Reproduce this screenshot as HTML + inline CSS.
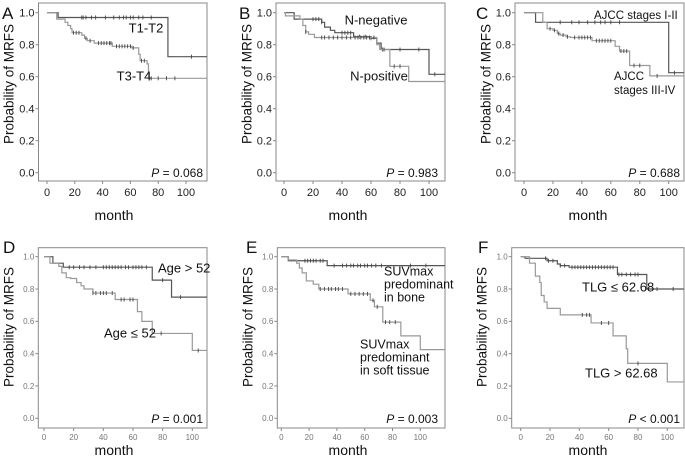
<!DOCTYPE html>
<html><head><meta charset="utf-8">
<style>
html,body{margin:0;padding:0;background:#fff;}
svg{display:block;font-family:"Liberation Sans",sans-serif;}
</style></head>
<body>
<svg id="fig" width="685" height="465" viewBox="0 0 685 465"></svg>
<script>
// ---- data (months, survival after step) ----
const aT12Times=[8,87], aT12Vals=[0.97,0.725], aT12Cens=[25,26,28,32,35,42,48,52,55,57,60,62,66,69,75,104];
const aT34Times=[7,13,15,17,18,25,27,29,34,47,61,66,67,72,73], aT34Vals=[0.96,0.94,0.92,0.9,0.875,0.86,0.84,0.825,0.81,0.79,0.78,0.74,0.70,0.68,0.59], aT34Cens=[19,21,23,28,31,37,39,41,43,45,46,50,52,54,56,58,60,62,68,70,75,80,86,92];
const bNegTimes=[7,26,28,32,35,48,60,64,67,100], bNegVals=[0.96,0.94,0.91,0.89,0.875,0.85,0.84,0.81,0.77,0.615], bNegCens=[20,22,24,26,40,42,44,46,52,56,60,68,80,93,104];
const bPosTimes=[1,11,13,15,17,21,64,66,73,86], bPosVals=[0.98,0.96,0.92,0.88,0.865,0.845,0.8,0.77,0.665,0.57], bPosCens=[15,26,28,31,34,37,40,43,46,49,51,53,55,57,59,62,69,76,80];
const cIIITimes=[8,100], cIIIVals=[0.94,0.625], cIIICens=[25,33,38,44,49,53,56,60,66,104];
const cIVTimes=[13,16,20,23,25,29,32,47,63,66,73,87], cIVVals=[0.94,0.9,0.89,0.87,0.86,0.85,0.845,0.825,0.79,0.76,0.67,0.605], cIVCens=[18,21,24,27,30,35,38,40,42,44,46,50,52,54,56,58,60,67,69,71,76,80,92];
const dOldTimes=[6,13,73,86], dOldVals=[0.96,0.935,0.855,0.75], dOldCens=[17,20,24,27,31,35,40,42,44,46,48,50,52,55,57,60,62,64,66,69,80,92];
const dYoungTimes=[4,10,12,15,18,22,25,27,33,48,63,66,73,100], dYoungVals=[0.96,0.94,0.9,0.87,0.865,0.84,0.82,0.8,0.775,0.735,0.66,0.6,0.525,0.42], dYoungCens=[33,35,38,40,42,46,52,54,58,60,79,104];
const eBoneTimes=[5,33], eBoneVals=[0.975,0.945], eBoneCens=[17,19,21,23,25,28,30,38,44,47,50,52,55,57,60,62,65,68,72,93,104];
const eSoftTimes=[5,11,13,15,18,23,27,48,64,67,73,86,100], eSoftVals=[0.98,0.96,0.93,0.9,0.85,0.83,0.8,0.77,0.73,0.69,0.595,0.51,0.425], eSoftCens=[28,31,34,36,39,41,44,50,53,56,59,62,66,69,75,78,82];
const fLowTimes=[3,18,25,27,33,66,86], fLowVals=[0.99,0.975,0.955,0.945,0.935,0.89,0.80], fLowCens=[17,19,22,27,30,35,37,39,41,43,45,47,49,51,53,55,57,59,61,63,67,69,72,75,78,80,93,104];
const fHighTimes=[6,10,13,14,16,18,27,48,63,72,73,100], fHighVals=[0.96,0.88,0.84,0.76,0.72,0.68,0.64,0.59,0.51,0.43,0.34,0.225], fHighCens=[42,45,47,55,60,80];
const yTickLabels=["0.0","0.2","0.4","0.6","0.8","1.0"];
const yTickValues=[0,0.2,0.4,0.6,0.8,1.0];
const xTickValues=[0,20,40,60,80,100];

const NS="http://www.w3.org/2000/svg";
const svg=document.getElementById('fig');
function mk(tag,attrs,parent){const e=document.createElementNS(NS,tag);for(const k in attrs)e.setAttribute(k,attrs[k]);(parent||svg).appendChild(e);return e;}

const panels=[
 {id:'a',L:'A',lx:2,ly:19,box:[38.5,3,207,181],x0:47,x100:186,y1:12.7,y0:172.7,big:true,ylx:10,yly:84,mx:114,my:220,px:203,py:177,P:'= 0.068',lfs:13,
  series:[[aT12Times,aT12Vals,aT12Cens,'#555'],[aT34Times,aT34Vals,aT34Cens,'#999']],
  labels:[['T1-T2',146,29,'middle'],['T3-T4',134,77,'middle']]},
 {id:'b',L:'B',lx:239,ly:19,box:[276,3,445,181],x0:284,x100:429,y1:12.7,y0:172.7,big:true,ylx:248,yly:84,mx:348,my:220,px:438,py:177,P:'= 0.983',lfs:13,
  series:[[bNegTimes,bNegVals,bNegCens,'#555'],[bPosTimes,bPosVals,bPosCens,'#999']],
  labels:[['N-negative',376,21,'middle'],['N-positive',379,77,'middle']]},
 {id:'c',L:'C',lx:476,ly:19,box:[515,3,684,181],x0:524,x100:668.7,y1:12.7,y0:172.7,big:true,ylx:487,yly:84,mx:588,my:220,px:680,py:177,P:'= 0.688',lfs:11.5,
  series:[[cIIITimes,cIIIVals,cIIICens,'#555'],[cIVTimes,cIVVals,cIVCens,'#999']],
  labels:[['AJCC stages I-II',594,16,'start'],['AJCC',614,77,'start'],['stages III-IV',614,91,'start']]},
 {id:'d',L:'D',lx:3,ly:253,box:[38.3,247.7,207,428],x0:44,x100:192.3,y1:256.7,y0:418.3,big:false,ylx:10,yly:327,mx:114,my:455,px:203,py:423,P:'= 0.001',lfs:13,
  series:[[dOldTimes,dOldVals,dOldCens,'#555'],[dYoungTimes,dYoungVals,dYoungCens,'#999']],
  labels:[['Age > 52',158,269,'start'],['Age ≤ 52',104,334,'start']]},
 {id:'e',L:'E',lx:246,ly:253,box:[277.3,247.7,445,428],x0:281.3,x100:420.3,y1:256.7,y0:418.3,big:false,ylx:249,yly:327,mx:348,my:455,px:438,py:423,P:'= 0.003',lfs:12.5,
  series:[[eBoneTimes,eBoneVals,eBoneCens,'#555'],[eSoftTimes,eSoftVals,eSoftCens,'#999']],
  labels:[['SUVmax',384,272,'start'],['predominant',384,285,'start'],['in bone',384,298,'start'],['SUVmax',360,345,'start'],['predominant',360,358,'start'],['in soft tissue',360,371,'start']]},
 {id:'f',L:'F',lx:478,ly:253,box:[511.7,247.7,684,428],x0:520.7,x100:667.3,y1:256.7,y0:418.3,big:false,ylx:483,yly:327,mx:588,my:455,px:680,py:423,P:'< 0.001',lfs:13,
  series:[[fLowTimes,fLowVals,fLowCens,'#555'],[fHighTimes,fHighVals,fHighCens,'#999']],
  labels:[['TLG ≤ 62.68',582,288,'start'],['TLG > 62.68',585,374,'start']]}
];

panels.forEach(p=>{
 const g=mk('g',{});
 
 
 const xs=t=>p.x0+(p.x100-p.x0)*t/100;
 const ys=v=>p.y0+(p.y1-p.y0)*v;
 const [bx1,by1,bx2,by2]=p.box;
 const box=mk('rect',{x:bx1,y:by1,width:bx2-bx1,height:by2-by1,fill:'none',stroke:'#888','stroke-width':1},g);
 
 
 const lt=mk('text',{x:p.lx,y:p.ly,'font-size':17,fill:'#111'},g); lt.textContent=p.L;
 
 
 const tfs=p.big?11:8, tcol=p.big?'#222':'#777';
 yTickValues.forEach((v,i)=>{
  const y=ys(v);
  mk('line',{x1:bx1-3,x2:bx1,y1:y,y2:y,stroke:'#888','stroke-width':1},g);
  const t=mk('text',{x:bx1-4,y:y+tfs*0.35,'font-size':tfs,fill:tcol,'text-anchor':'end'},g);t.textContent=yTickLabels[i];
  
  
 });
 xTickValues.forEach(v=>{
  const x=xs(v);
  mk('line',{x1:x,x2:x,y1:by2,y2:by2+3,stroke:'#888','stroke-width':1},g);
  const t=mk('text',{x:x,y:by2+(p.big?15:12),'font-size':tfs,fill:tcol,'text-anchor':'middle'},g);t.textContent=v;
  
  
 });
 const yl=mk('text',{x:p.ylx,y:p.yly,'font-size':13.5,fill:'#111','text-anchor':'middle',transform:`rotate(-90 ${p.ylx} ${p.yly})`,'dominant-baseline':'middle'},g);
 yl.textContent='Probability of MRFS';
 
 
 const ml=mk('text',{x:p.mx,y:p.my,'font-size':14,fill:'#111','text-anchor':'middle'},g);ml.textContent='month';
 
 
 const pt=mk('text',{x:p.px,y:p.py,'font-size':12,fill:'#111','text-anchor':'end'},g);
 const pi=mk('tspan',{'font-style':'italic'},pt);pi.textContent='P';
 const pr=mk('tspan',{},pt);pr.textContent=' '+p.P;
 
 
 p.series.forEach(([times,vals,cens,col],si)=>{
  let d=`M${xs(0)},${ys(1)}`;
  times.forEach((t,i)=>{d+=` H${xs(t)} V${ys(vals[i])}`;});
  d+=` H${bx2}`;
  const path=mk('path',{d:d,fill:'none',stroke:col,'stroke-width':1.2},g);
  
  
  cens.forEach(c=>{
   let v=1;times.forEach((t,i)=>{if(t<=c)v=vals[i];});
   const cm=mk('line',{x1:xs(c),x2:xs(c),y1:ys(v)-2,y2:ys(v)+2,stroke:'#444','stroke-width':0.9},g);
   
   
  });
 });
 p.labels.forEach(([txt,x,y,a])=>{
  const t=mk('text',{x:x,y:y,'font-size':p.lfs,fill:'#111','text-anchor':a,'dominant-baseline':'middle'},g);t.textContent=txt;
  
  
 });
});
</script>
</body></html>
